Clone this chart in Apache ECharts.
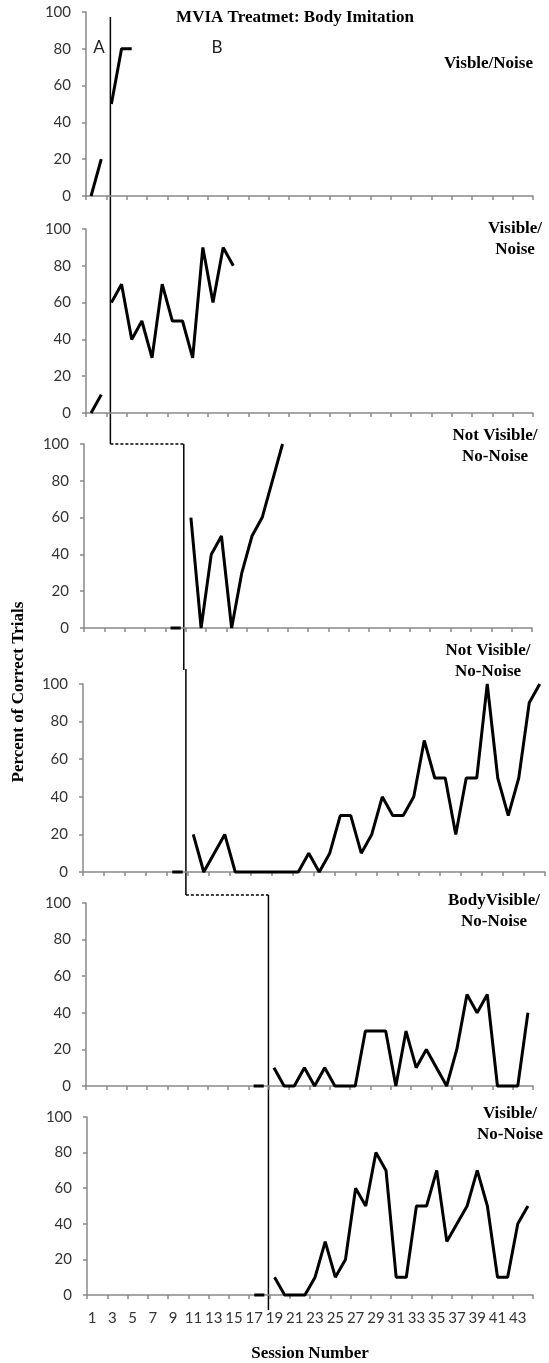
<!DOCTYPE html>
<html>
<head>
<meta charset="utf-8">
<script src="https://cdn.jsdelivr.net/npm/echarts@6/dist/echarts.min.js"></script>
<style>
  html, body { margin: 0; padding: 0; background: #fff; }
  #chart { width: 549px; height: 1363px; }
</style>
</head>
<body>
<div id="chart"></div>
<script>
// session numbers (x categories)
const sessions = ['1','2','3','4','5','6','7','8','9','10','11','12','13','14','15','16','17','18','19','20','21','22',
  '23','24','25','26','27','28','29','30','31','32','33','34','35','36','37','38','39','40','41','42','43','44'];
const yTicks = [0, 20, 40, 60, 80, 100];

// each panel: baseline (A) and treatment (B) phases, with the session where they start
const p1Label = ['Visble/Noise'];
const p1AStart = 1,  p1A = [0, 20];
const p1BStart = 3,  p1B = [50, 80, 80];

const p2Label = ['Visible/', 'Noise'];
const p2AStart = 1,  p2A = [0, 10];
const p2BStart = 3,  p2B = [60, 70, 40, 50, 30, 70, 50, 50, 30, 90, 60, 90, 80];

const p3Label = ['Not Visible/', 'No-Noise'];
const p3AStart = 9,  p3A = [0, 0];
const p3BStart = 11, p3B = [60, 0, 40, 50, 0, 30, 50, 60, 80, 100];

const p4Label = ['Not Visible/', 'No-Noise'];
const p4AStart = 9,  p4A = [0, 0];
const p4BStart = 11, p4B = [20, 0, 10, 20, 0, 0, 0, 0, 0, 0, 0, 10, 0, 10, 30, 30, 10, 20, 40, 30, 30, 40, 70,
  50, 50, 20, 50, 50, 100, 50, 30, 50, 90, 100];

const p5Label = ['BodyVisible/', 'No-Noise'];
const p5AStart = 17, p5A = [0, 0];
const p5BStart = 19, p5B = [10, 0, 0, 10, 0, 10, 0, 0, 0, 30, 30, 30, 0, 30, 10, 20, 10, 0, 20, 50, 40, 50,
  0, 0, 0, 40];

const p6Label = ['Visible/', 'No-Noise'];
const p6AStart = 17, p6A = [0, 0];
const p6BStart = 19, p6B = [10, 0, 0, 0, 10, 30, 10, 20, 60, 50, 80, 70, 10, 10, 50, 50, 70, 30, 40, 50, 70, 50,
  10, 10, 40, 50];

// phase change lines, in session units
const phase1 = 2.9;
const phase2 = 10.3;
const phase3 = 18.4;

const panels = [
  { a: p1A, aStart: p1AStart, b: p1B, bStart: p1BStart, label: p1Label, left: 86, right: 16, top: 12,   height: 184, lx: 533, ly: 64 },
  { a: p2A, aStart: p2AStart, b: p2B, bStart: p2BStart, label: p2Label, left: 86, right: 16, top: 229,  height: 184, lx: 515, ly: 239 },
  { a: p3A, aStart: p3AStart, b: p3B, bStart: p3BStart, label: p3Label, left: 84, right: 17, top: 444,  height: 184, lx: 495, ly: 446 },
  { a: p4A, aStart: p4AStart, b: p4B, bStart: p4BStart, label: p4Label, left: 83, right: 4,  top: 684,  height: 188, lx: 488, ly: 661 },
  { a: p5A, aStart: p5AStart, b: p5B, bStart: p5BStart, label: p5Label, left: 86, right: 16, top: 903,  height: 183, lx: 494, ly: 911 },
  { a: p6A, aStart: p6AStart, b: p6B, bStart: p6BStart, label: p6Label, left: 87, right: 16, top: 1117, height: 183, lx: 510, ly: 1124 }
];

const pad = (vals, start) => sessions.map((s, i) => {
  const k = i - (start - 1);
  return k >= 0 && k < vals.length ? vals[k] : null;
});

const chart = echarts.init(document.getElementById('chart'), null, { renderer: 'canvas' });

const axisGray = '#898989';
const grids = [], xAxes = [], yAxes = [], series = [];
panels.forEach((p, i) => {
  const last = i === panels.length - 1;
  grids.push({ left: p.left, right: p.right, top: p.top, height: p.height });
  xAxes.push({
    type: 'category', gridIndex: i, data: sessions, boundaryGap: true,
    axisLine: { lineStyle: { color: axisGray, width: 1.5 } },
    axisTick: { show: true, length: 4, lineStyle: { color: axisGray, width: 1.5 } },
    axisLabel: last ? { show: true, interval: 1, color: '#333', fontFamily: 'Lato', fontSize: 15, margin: 16 } : { show: false },
    name: last ? 'Session Number' : '',
    nameLocation: 'middle', nameGap: 50,
    nameTextStyle: { fontFamily: 'Liberation Serif', fontWeight: 'bold', fontSize: 17, color: '#000' }
  });
  yAxes.push({
    type: 'value', gridIndex: i, min: 0, max: 100, interval: 20,
    axisLine: { show: true, lineStyle: { color: axisGray, width: 1.5 } },
    axisTick: { show: true, length: 4, lineStyle: { color: axisGray, width: 1.5 } },
    axisLabel: { color: '#333', fontFamily: 'Lato', fontSize: 15, margin: 15 },
    splitLine: { show: false }
  });
  [[p.a, p.aStart], [p.b, p.bStart]].forEach(([vals, start]) => {
    series.push({
      type: 'line', xAxisIndex: i, yAxisIndex: i, data: pad(vals, start),
      showSymbol: false, symbol: 'none', connectNulls: false, clip: false,
      lineStyle: { color: '#000', width: 3 }, animation: false
    });
  });
});

chart.setOption({
  animation: false,
  grid: grids, xAxis: xAxes, yAxis: yAxes, series: series
});

// pixel x for a fractional session in a panel
const sessionX = (gi, s) => {
  const i0 = Math.floor(s) - 1;
  const x0 = chart.convertToPixel({ gridIndex: gi }, [i0, 0])[0];
  const x1 = chart.convertToPixel({ gridIndex: gi }, [i0 + 1, 0])[0];
  return x0 + (s - Math.floor(s)) * (x1 - x0);
};
const valueY = (gi, v) => chart.convertToPixel({ gridIndex: gi }, [0, v])[1];

const serifBold = 'bold 17px "Liberation Serif"';
const graphics = [];
const line = (pts, dashed) => graphics.push({
  type: 'polyline', shape: { points: pts }, silent: true,
  style: { stroke: '#000', lineWidth: 1.5, fill: null, lineDash: dashed ? [3, 2] : null }
});

// phase change lines
const xA = sessionX(0, phase1);
const xB = sessionX(2, phase2);
const xB4 = sessionX(3, phase2);
const xC = sessionX(5, phase3);
const top1 = valueY(0, 100) + 5;
const y3top = valueY(2, 100);
const y5top = valueY(4, 100) - 8;
line([[xA, top1], [xA, y3top]], false);
line([[xA, y3top], [xB, y3top]], true);
line([[xB, y3top], [xB, 670]], false);
line([[xB4, 669], [xB4, y5top]], false);
line([[xB4, y5top], [xC, y5top]], true);
line([[xC, y5top], [xC, valueY(5, 0) + 15]], false);

// titles and labels
graphics.push({ type: 'text', x: 295, y: 18, silent: true,
  style: { text: 'MVIA Treatmet: Body Imitation', font: serifBold, fill: '#000', align: 'center', verticalAlign: 'middle' } });
graphics.push({ type: 'text', x: 99, y: 48, silent: true,
  style: { text: 'A', font: '17px Lato', fill: '#222', align: 'center', verticalAlign: 'middle' } });
graphics.push({ type: 'text', x: 217, y: 48, silent: true,
  style: { text: 'B', font: '17px Lato', fill: '#222', align: 'center', verticalAlign: 'middle' } });
graphics.push({ type: 'text', x: 19, y: 692, rotation: Math.PI / 2, silent: true,
  style: { text: 'Percent of Correct Trials', font: serifBold, fill: '#000', align: 'center', verticalAlign: 'middle' } });
panels.forEach((p, i) => {
  const single = p.label.length === 1;
  graphics.push({ type: 'text', x: p.lx, y: p.ly, silent: true,
    style: { text: p.label.join('\n'), font: serifBold, lineHeight: 21, fill: '#000',
      align: single ? 'right' : 'center', verticalAlign: 'middle' } });
});

chart.setOption({ graphic: graphics });
</script>
</body>
</html>
